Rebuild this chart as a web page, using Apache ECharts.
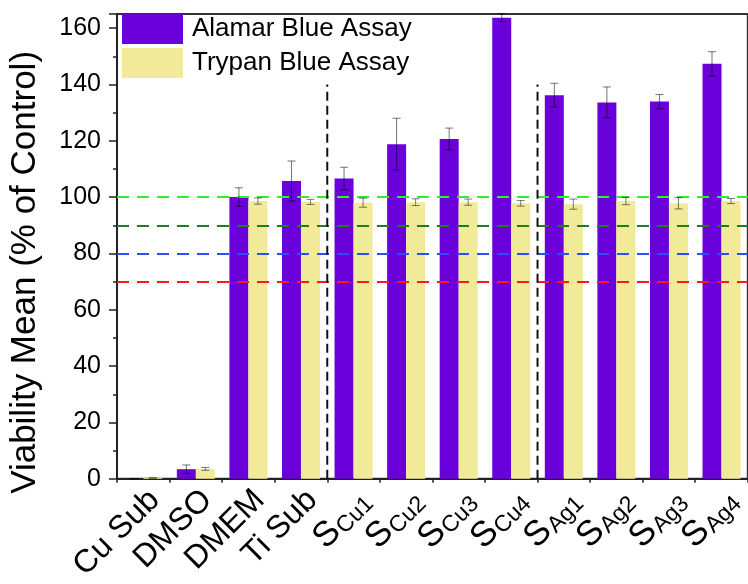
<!DOCTYPE html>
<html lang="en">
<head>
    <meta charset="UTF-8">
    <title>Viability Mean</title>
    <script src="https://cdn.jsdelivr.net/npm/echarts@6/dist/echarts.min.js"></script>
    <style>
        html, body { margin: 0; padding: 0; background: #fff; }
        #chart { width: 748px; height: 584px; }
    </style>
</head>
<body>
    <div id="chart"></div>
    <script>
        // categories; "S_xxx" means S with a subscript
        var categories = ['Cu Sub', 'DMSO', 'DMEM', 'Ti Sub', 'S_Cu1', 'S_Cu2', 'S_Cu3', 'S_Cu4', 'S_Ag1', 'S_Ag2', 'S_Ag3', 'S_Ag4'];
        var alamar = [0, 3.4, 100, 105.7, 106.6, 118.8, 120.6, 163.7, 136.2, 133.6, 133.9, 147.3];
        var alamarErr = [0, 1.5, 3.3, 7.1, 4, 9.2, 3.9, 1.4, 4.2, 5.5, 2.5, 4.3];
        var trypan = [0.3, 3.5, 98.6, 98.3, 98, 98.2, 98.2, 97.8, 97.5, 98.6, 97.8, 98.6];
        var trypanErr = [0, 0.5, 1.1, 0.9, 1.6, 1.2, 1.1, 1, 1.8, 1.3, 2, 0.9];
        var yTicks = [0, 20, 40, 60, 80, 100, 120, 140, 160];
        // horizontal reference lines
        var refValues = [100, 90, 80, 70];
        var refColors = ['#2cf02c', '#1b7f1b', '#2f4cff', '#ff1a1a'];
        // vertical separators after these categories, up to this height
        var dividerAfter = ['Ti Sub', 'S_Cu4'];
        var dividerTop = 140;

        var FONT = '"Liberation Sans", Arial, sans-serif';
        var BAR_W = 19;

        var chart = echarts.init(document.getElementById('chart'));

        function errorSeries(values, errs, shift, color) {
            return {
                type: 'custom',
                xAxisIndex: 0,
                yAxisIndex: 0,
                z: 5,
                silent: true,
                data: values.map(function (v, i) { return [i, v - errs[i], v + errs[i]]; }),
                renderItem: function (params, api) {
                    var lo = api.coord([api.value(0), api.value(1)]);
                    var hi = api.coord([api.value(0), api.value(2)]);
                    var x = lo[0] + shift;
                    var cap = 4;
                    var st = { stroke: color, lineWidth: 1 };
                    return {
                        type: 'group',
                        children: [
                            { type: 'line', shape: { x1: x, y1: lo[1], x2: x, y2: hi[1] }, style: st },
                            { type: 'line', shape: { x1: x - cap, y1: lo[1], x2: x + cap, y2: lo[1] }, style: st },
                            { type: 'line', shape: { x1: x - cap, y1: hi[1], x2: x + cap, y2: hi[1] }, style: st }
                        ]
                    };
                }
            };
        }

        var dividerSeries = dividerAfter.map(function (name) {
            var pos = categories.indexOf(name) + 1;
            return {
                type: 'line',
                xAxisIndex: 1,
                yAxisIndex: 0,
                data: [[pos, 0], [pos, dividerTop]],
                symbol: 'none',
                silent: true,
                z: 6,
                lineStyle: { color: '#111', width: 2, type: [9, 5] }
            };
        });

        var option = {
            backgroundColor: '#fff',
            animation: false,
            grid: {
                left: 117, right: -9, top: 14, bottom: 105,
                show: true, borderColor: '#333', borderWidth: 2, backgroundColor: 'transparent'
            },
            legend: {
                orient: 'vertical',
                left: 117, top: 9,
                itemWidth: 61, itemHeight: 30, itemGap: 4,
                icon: 'rect',
                textStyle: { fontFamily: FONT, fontSize: 26, color: '#000', padding: [0, 0, 0, 4] },
                data: ['Alamar Blue Assay', 'Trypan Blue Assay']
            },
            xAxis: [{
                type: 'category',
                data: categories,
                axisLine: { lineStyle: { color: '#222', width: 2 } },
                axisTick: { alignWithLabel: true, length: 7, lineStyle: { color: '#222', width: 1.5 } },
                axisLabel: {
                    interval: 0, rotate: 45, margin: 5, color: '#000',
                    verticalAlign: 'top',
                    fontFamily: FONT, fontSize: 32,
                    formatter: function (v) {
                        if (v.indexOf('S_') === 0) return '{s|S}{sub|' + v.slice(2) + '}';
                        return v;
                    },
                    rich: {
                        s: { fontFamily: FONT, fontSize: 35, color: '#000' },
                        sub: { fontFamily: FONT, fontSize: 23, color: '#000', verticalAlign: 'bottom', padding: [0, 0, 0, 1] }
                    }
                }
            }, {
                type: 'value',
                min: 0, max: categories.length, interval: 1,
                position: 'bottom',
                axisLine: { show: false },
                axisTick: { show: true, length: 4, lineStyle: { color: '#222', width: 1.5 } },
                axisLabel: { show: false },
                splitLine: { show: false }
            }],
            yAxis: {
                type: 'value',
                min: 0, max: 165, interval: 20,
                name: 'Viability Mean (% of Control)',
                nameLocation: 'middle',
                nameGap: 74,
                nameTextStyle: { fontFamily: FONT, fontSize: 35, color: '#000', padding: [0, 52, 0, 0] },
                axisLine: { show: true, lineStyle: { color: '#222', width: 2 } },
                axisTick: { show: true, length: 8, lineStyle: { color: '#222', width: 1.5 } },
                minorTick: { show: true, splitNumber: 2, length: 4, lineStyle: { color: '#222', width: 1.5 } },
                splitLine: { show: false },
                axisLabel: {
                    margin: 16, color: '#000', fontFamily: FONT, fontSize: 25,
                    showMaxLabel: false,
                    formatter: function (v) { return yTicks.indexOf(v) >= 0 ? String(v) : ''; }
                }
            },
            series: [{
                name: 'Alamar Blue Assay',
                type: 'bar',
                data: alamar,
                barWidth: BAR_W,
                barGap: '0%',
                itemStyle: { color: '#6a00da' },
                markLine: {
                    silent: true,
                    symbol: 'none',
                    label: { show: false },
                    data: refValues.map(function (v, i) {
                        return { yAxis: v, lineStyle: { color: refColors[i], width: 2, type: [12, 8] } };
                    })
                }
            }, {
                name: 'Trypan Blue Assay',
                type: 'bar',
                data: trypan,
                barWidth: BAR_W,
                barGap: '0%',
                itemStyle: { color: '#f1ea98' }
            },
            errorSeries(alamar, alamarErr, -BAR_W / 2, 'rgba(0,0,0,0.55)'),
            errorSeries(trypan, trypanErr, BAR_W / 2, 'rgba(0,0,0,0.5)')
            ].concat(dividerSeries)
        };

        chart.setOption(option);
    </script>
</body>
</html>
